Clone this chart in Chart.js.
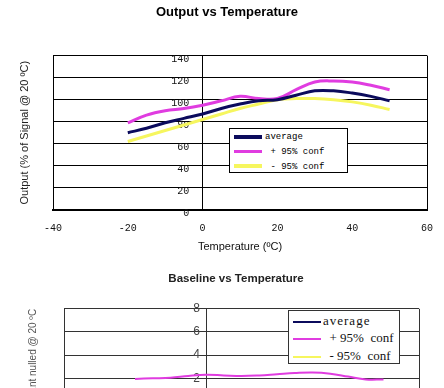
<!DOCTYPE html>
<html>
<head>
<meta charset="utf-8">
<script src="https://cdn.jsdelivr.net/npm/chart.js@4.4.1/dist/chart.umd.min.js"></script>
<style>
  html, body { margin: 0; padding: 0; background: #fff; }
  body { width: 444px; height: 388px; overflow: hidden; position: relative; }
  canvas { position: absolute; left: 0; }
  #outChart { top: 0; }
  #baseChart { top: 258px; }
  .legend { position: absolute; background: #fff; overflow: hidden; box-sizing: border-box; }
  .legend .row { position: absolute; left: 0; white-space: pre; }
  .legend .swatch { position: absolute; }
  #leg1 { left: 229px; top: 128px; width: 119px; height: 45px; border: 1px solid #000;
          font: 9px "Liberation Mono", monospace; color: #000; }
  #leg2 { left: 288px; top: 310px; width: 112px; height: 54px; border: 1px solid #333;
          font: 13px "Liberation Serif", serif; color: #111; }
</style>
</head>
<body>
<canvas id="outChart" width="444" height="258"></canvas>
<canvas id="baseChart" width="444" height="230"></canvas>

<div class="legend" id="leg1">
  <div class="swatch" style="left:4px;top:6px;width:28px;height:4px;background:#0b0b5c"></div>
  <div class="row" style="left:35px;top:3px">average</div>
  <div class="swatch" style="left:4px;top:21px;width:28px;height:3px;background:#e03ce0"></div>
  <div class="row" style="left:35px;top:18px"> + 95% conf</div>
  <div class="swatch" style="left:4px;top:35px;width:28px;height:4px;background:#f6f65e"></div>
  <div class="row" style="left:35px;top:33px"> - 95% conf</div>
</div>

<div class="legend" id="leg2">
  <div class="swatch" style="left:4px;top:10px;width:28px;height:2px;background:#0b0b5c"></div>
  <div class="row" style="left:34px;top:2px;letter-spacing:1px">average</div>
  <div class="swatch" style="left:4px;top:27px;width:28px;height:2px;background:#e03ce0"></div>
  <div class="row" style="left:34px;top:19px">  + 95%  conf</div>
  <div class="swatch" style="left:4px;top:45px;width:28px;height:2px;background:#f6f65e"></div>
  <div class="row" style="left:34px;top:37px">  - 95%  conf</div>
</div>

<script>
// temperatures (ºC) the curves are sampled at
const temps = [-20, -15, -10, -5, 0, 5, 10, 15, 20, 25, 30, 35, 40, 45, 50];

// Output vs Temperature (% of signal @ 20 ºC)
const outAvg   = [70, 74, 79, 83, 87, 92, 96, 99, 100, 104, 108, 108, 106, 103, 99];
const outPlus  = [79, 86, 90, 92, 95, 99, 103, 101, 101, 109, 116, 117, 116, 113, 109];
const outMinus = [62, 67, 72, 77, 82, 87, 92, 96, 100, 101, 101, 100, 98, 95, 91];

// Baseline vs Temperature
const baseAvg   = [0.4, 0.4, 0.45, 0.5, 0.55, 0.5, 0.5, 0.5, 0.55, 0.6, 0.65, 0.6, 0.45, 0.3, 0.3];
const basePlus  = [1.95, 2.0, 2.05, 2.2, 2.3, 2.25, 2.2, 2.25, 2.35, 2.45, 2.5, 2.4, 2.15, 1.9, 1.9];
const baseMinus = [-1.15, -1.2, -1.15, -1.2, -1.2, -1.25, -1.2, -1.25, -1.25, -1.25, -1.2, -1.2, -1.25, -1.3, -1.3];

const seriesNames = ['average', '+ 95% conf', '- 95% conf'];
const seriesColors = ['#0b0b5c', '#e03ce0', '#f6f65e'];

function pts(ys) {
  return temps.map((t, i) => ({ x: t, y: ys[i] }));
}

// first dataset is drawn on top, so average stays in front
function makeSets(lists, width) {
  return lists.map((ys, i) => ({
    label: seriesNames[i],
    data: pts(ys),
    borderColor: seriesColors[i],
    borderWidth: width,
    pointRadius: 0,
    tension: 0.4,
    fill: false,
    yAxisID: 'y'
  }));
}

// vertical lines only for the frame (-40, 60) and the axis at 0
function frameLines(color) {
  return (ctx) => (ctx.tick && [-40, 0, 60].includes(ctx.tick.value)) ? color : 'rgba(0,0,0,0)';
}

let outChart = new Chart('outChart', {
  type: 'line',
  data: { datasets: makeSets([outAvg, outPlus, outMinus], 3) },
  options: {
    responsive: false,
    animation: false,
    layout: { padding: { left: 27, right: 17, top: 4, bottom: 4 } },
    plugins: {
      legend: { display: false },
      tooltip: { enabled: false },
      title: {
        display: true,
        text: 'Output vs Temperature',
        color: '#000',
        font: { family: "'Liberation Sans', Arial, sans-serif", size: 13, weight: 'bold' },
        padding: { top: 1, bottom: 35 }
      }
    },
    scales: {
      x: {
        type: 'linear',
        min: -40,
        max: 60,
        ticks: {
          stepSize: 20,
          color: '#111',
          padding: 6,
          font: { family: "'Liberation Mono', monospace", size: 10 }
        },
        grid: { color: frameLines('#000'), drawTicks: true, tickLength: 7, tickColor: 'rgba(0,0,0,0)' },
        border: { display: true, color: '#000', width: 2 },
        title: {
          display: true,
          text: 'Temperature (ºC)',
          color: '#111',
          font: { family: "'Liberation Sans', Arial, sans-serif", size: 11 },
          padding: { top: 0, bottom: 0 }
        }
      },
      y: {
        type: 'linear',
        position: { x: -3.6 },
        min: 0,
        max: 140,
        ticks: {
          stepSize: 20,
          color: '#111',
          labelOffset: 4,
          font: { family: "'Liberation Mono', monospace", size: 10 }
        },
        grid: { color: '#000', lineWidth: 1, drawTicks: false },
        border: { display: false }
      },
      yt: {
        axis: 'y',
        type: 'linear',
        position: 'left',
        ticks: { display: false },
        grid: { display: false, drawTicks: false },
        border: { display: false },
        title: {
          display: true,
          text: 'Output (% of Signal @ 20 ºC)',
          color: '#222',
          font: { family: "'Liberation Sans', Arial, sans-serif", size: 11 },
          padding: { top: -8.6, bottom: 21.4 }
        }
      }
    }
  }
});

let baseChart = new Chart('baseChart', {
  type: 'line',
  data: { datasets: makeSets([baseAvg, basePlus, baseMinus], 2) },
  options: {
    responsive: false,
    animation: false,
    layout: { padding: { left: 53, right: 25, top: 8, bottom: 5 } },
    plugins: {
      legend: { display: false },
      tooltip: { enabled: false },
      title: {
        display: true,
        text: 'Baseline vs Temperature',
        color: '#222',
        font: { family: "'Liberation Sans', Arial, sans-serif", size: 11.5, weight: 'bold' },
        padding: { top: 6, bottom: 23 }
      }
    },
    scales: {
      x: {
        type: 'linear',
        min: -40,
        max: 60,
        ticks: {
          stepSize: 20,
          color: '#333',
          padding: 4,
          font: { family: "'Liberation Sans', Arial, sans-serif", size: 11 }
        },
        grid: { color: frameLines('#333'), drawTicks: false },
        border: { display: true, color: '#333', width: 1 },
        title: {
          display: true,
          text: 'Temperature (ºC)',
          color: '#333',
          font: { family: "'Liberation Sans', Arial, sans-serif", size: 10 },
          padding: { top: 2, bottom: 0 }
        }
      },
      y: {
        type: 'linear',
        position: { x: -1.7 },
        min: -4,
        max: 8,
        ticks: {
          stepSize: 2,
          color: '#444',
          font: { family: "'Liberation Sans', Arial, sans-serif", size: 12 }
        },
        grid: { color: '#333', lineWidth: 1, drawTicks: false },
        border: { display: false }
      },
      yt: {
        axis: 'y',
        type: 'linear',
        position: 'left',
        ticks: { display: false },
        grid: { display: false, drawTicks: false },
        border: { display: false },
        title: {
          display: true,
          align: 'end',
          text: 'Baseline, amount nulled @ 20 ºC',
          color: '#555',
          font: { family: "'Liberation Sans', Arial, sans-serif", size: 10 },
          padding: { top: -26, bottom: 25 }
        }
      }
    }
  }
});
</script>
</body>
</html>
